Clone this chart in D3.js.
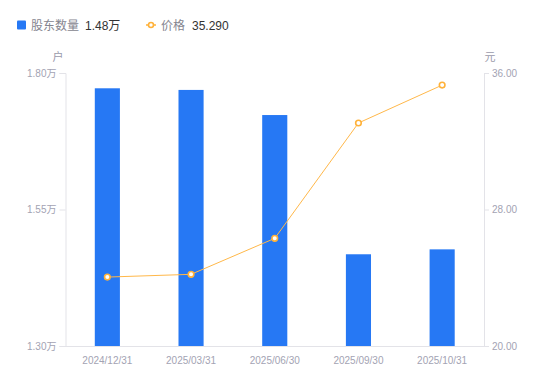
<!DOCTYPE html>
<meta charset="utf-8">
<head>
<style>
body { margin: 0; background: #fff; }
svg text { font-family: "Liberation Sans", Arial, "Noto Sans CJK SC", sans-serif; }
</style>
<script src="https://d3js.org/d3.v7.min.js"></script>
</head>
<body>
<div id="chart"></div>
<script>
// data
var dates = ["2024/12/31", "2025/03/31", "2025/06/30", "2025/09/30", "2025/10/31"];
var holders = [1.772, 1.769, 1.723, 1.468, 1.477];   // 万户
var prices = [24.04, 24.20, 26.31, 33.07, 35.29];    // 元
var leftTicks = [1.30, 1.55, 1.80];
var rightTicks = [20, 28, 36];

var width = 550,
    height = 381,
    margin = {top: 73, right: 66, bottom: 35, left: 65.5};

var svg = d3.select("#chart").append("svg")
    .attr("width", width)
    .attr("height", height);

var x = d3.scaleBand()
    .domain(dates)
    .range([margin.left, width - margin.right]);

var yL = d3.scaleLinear()
    .domain([1.30, 1.80])
    .range([height - margin.bottom, margin.top]);

var yR = d3.scaleLinear()
    .domain([20, 36])
    .range([height - margin.bottom, margin.top]);

var axisColor = "#e3e3e8",
    labelColor = "#a3a3b3";

// bars
svg.selectAll(".bar")
    .data(holders)
  .enter().append("rect")
    .attr("class", "bar")
    .attr("x", function(d, i) { return x(dates[i]) + x.bandwidth() * 0.35; })
    .attr("width", x.bandwidth() * 0.3)
    .attr("y", function(d) { return yL(d); })
    .attr("height", function(d) { return yL(1.30) - yL(d); })
    .attr("fill", "#2678f4");

// axes
var gL = svg.append("g")
    .attr("transform", "translate(" + margin.left + ",0)")
    .call(d3.axisLeft(yL).tickValues(leftTicks).tickSize(6).tickPadding(3)
      .tickFormat(function(d) { return d.toFixed(2) + "万"; }));

var gR = svg.append("g")
    .attr("transform", "translate(" + (width - margin.right) + ",0)")
    .call(d3.axisRight(yR).tickValues(rightTicks).tickSize(5).tickPadding(3)
      .tickFormat(function(d) { return d.toFixed(2); }));

var gX = svg.append("g")
    .attr("transform", "translate(0," + (height - margin.bottom) + ")")
    .call(d3.axisBottom(x).tickSize(0).tickPadding(11));

[gL, gR, gX].forEach(function(g) {
  g.select(".domain").attr("stroke", axisColor);
  g.selectAll(".tick line").attr("stroke", axisColor);
  g.selectAll(".tick text")
      .attr("fill", labelColor)
      .style("font-size", "10px")
      .style("font-family", "'Liberation Sans', Arial, 'Noto Sans CJK SC', sans-serif");
});

// unit labels
svg.append("text")
    .attr("x", 58).attr("y", 61)
    .attr("text-anchor", "middle")
    .attr("fill", "#9a9aaa")
    .style("font-size", "11px")
    .text("户");

svg.append("text")
    .attr("x", 490).attr("y", 61)
    .attr("text-anchor", "middle")
    .attr("fill", "#9a9aaa")
    .style("font-size", "11px")
    .text("元");

// price line
var line = d3.line()
    .x(function(d, i) { return x(dates[i]) + x.bandwidth() / 2; })
    .y(function(d) { return yR(d); });

svg.append("path")
    .datum(prices)
    .attr("d", line)
    .attr("fill", "none")
    .attr("stroke", "#ffb84a")
    .attr("stroke-width", 1);

svg.selectAll(".pt")
    .data(prices)
  .enter().append("circle")
    .attr("class", "pt")
    .attr("cx", function(d, i) { return x(dates[i]) + x.bandwidth() / 2; })
    .attr("cy", function(d) { return yR(d); })
    .attr("r", 2.8)
    .attr("fill", "#fff")
    .attr("stroke", "#ffb23a")
    .attr("stroke-width", 1.6);

// legend
var legend = svg.append("g");

legend.append("rect")
    .attr("x", 17).attr("y", 20.5)
    .attr("width", 9).attr("height", 9)
    .attr("rx", 1)
    .attr("fill", "#2678f4");

legend.append("text")
    .attr("x", 31).attr("y", 29.5)
    .attr("fill", "#85858f")
    .style("font-size", "12px")
    .text("股东数量");

legend.append("text")
    .attr("x", 85).attr("y", 29.5)
    .attr("fill", "#333")
    .style("font-size", "12px")
    .text("1.48万");

legend.append("line")
    .attr("x1", 146).attr("x2", 156)
    .attr("y1", 25).attr("y2", 25)
    .attr("stroke", "#ffb23a")
    .attr("stroke-width", 1.5);

legend.append("circle")
    .attr("cx", 151).attr("cy", 25)
    .attr("r", 2.5)
    .attr("fill", "#fff")
    .attr("stroke", "#ffb23a")
    .attr("stroke-width", 1.6);

legend.append("text")
    .attr("x", 161).attr("y", 29.5)
    .attr("fill", "#85858f")
    .style("font-size", "12px")
    .text("价格");

legend.append("text")
    .attr("x", 192).attr("y", 29.5)
    .attr("fill", "#333")
    .style("font-size", "12px")
    .text("35.290");
</script>
</body>
